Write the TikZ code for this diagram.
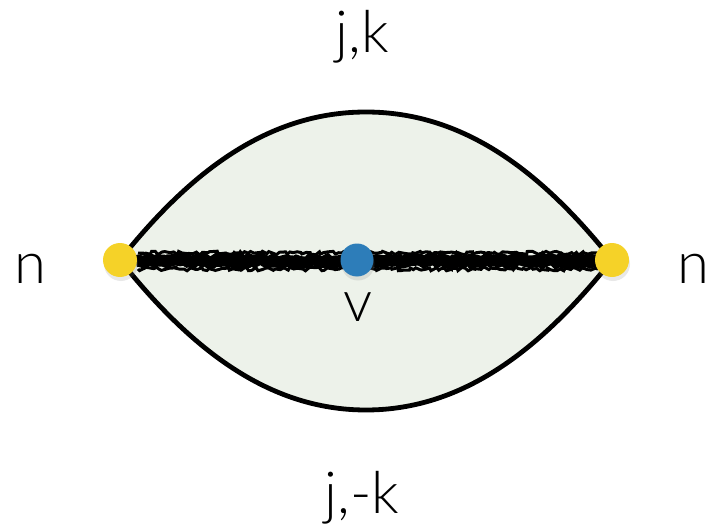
\documentclass[tikz,border=0pt]{standalone}
\usepackage{fontspec}
\setmainfont{Lato Light}
\usepackage{tikz}
\usetikzlibrary{calc,shadows,decorations.pathmorphing}
\definecolor{lensfill}{RGB}{237,242,234}
\definecolor{dotyellow}{RGB}{245,210,40}
\definecolor{dotblue}{RGB}{45,125,185}

\begin{document}
\begin{tikzpicture}[x=1pt,y=-1pt,thick]
        \tikzstyle{dot} = [circle, inner sep=0pt, minimum size=34pt, drop shadow={opacity=0.18,shadow xshift=1pt,shadow yshift=-4pt}]
        \tikzstyle{lbl} = [anchor=base, inner sep=0pt, font=\fontsize{58}{60}\selectfont]
        \tikzstyle{rim} = [line width=4.8pt, black]
        \tikzstyle{rough} = [decorate, decoration={random steps,segment length=3pt,amplitude=1.8pt}, black]
        \useasboundingbox (0,0) rectangle (710,527);
        \pgfmathsetseed{7}

        % Nodes
        \coordinate (l) at (120,260);
        \coordinate (r) at (612,260);
        \coordinate (top) at (366,112);
        \coordinate (bot) at (366,410);

        % Lens
        \fill[lensfill] (l) .. controls (190,172) and (268,112) .. (top)
                .. controls (464,112) and (542,172) .. (r)
                .. controls (542,348) and (464,410) .. (bot)
                .. controls (268,410) and (190,348) .. (l) -- cycle;
        \draw[rim] (l) .. controls (190,172) and (268,112) .. (top)
                .. controls (464,112) and (542,172) .. (r);
        \draw[rim] (l) .. controls (190,348) and (268,410) .. (bot)
                .. controls (464,410) and (542,348) .. (r);

        % Edges
        \draw[rough, line width=12pt] ($(l)+(16,1)$) -- ($(r)+(-12,1)$);
        \draw[rough, line width=3pt] ($(l)+(18,-7)$) -- ($(r)+(-14,-7)$);
        \draw[rough, line width=3pt] ($(l)+(18,9)$) -- ($(r)+(-14,9)$);

        % Dots
        \node[dot, fill=dotyellow] (nl) at (l) {};
        \node[dot, fill=dotyellow] (nr) at (r) {};
        \node[dot, fill=dotblue, minimum size=33pt] (v) at (357,260) {};

        % Labels
        \node[lbl] (jk) at (362,53) {j,k};
        \node[lbl] (jmk) at (362,513) {j,-k};
        \node[lbl] (ln) at (30,283) {n};
        \node[lbl] (rn) at (693,283) {n};
        \node[lbl] (vl) at (358,321) {v};
    \end{tikzpicture}
\end{document}
